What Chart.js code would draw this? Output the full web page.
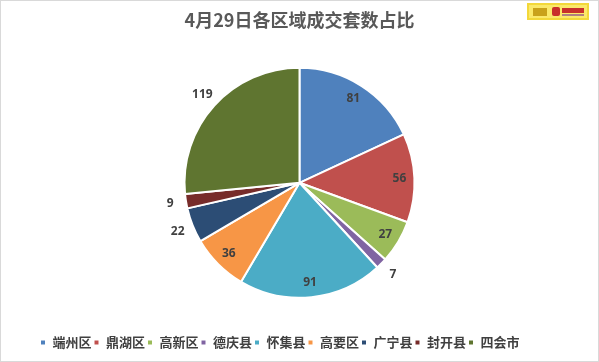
<!DOCTYPE html>
<html>
<head>
<meta charset="utf-8">
<script src="https://cdn.jsdelivr.net/npm/chart.js@4"></script>
<style>
  body { margin: 0; background: #fff; }
  #wrap { position: relative; width: 599px; height: 362px; }
  #frame { position: absolute; left: 0; top: 0; width: 599px; height: 362px; box-sizing: border-box; border: 1px solid #d9d9d9; pointer-events: none; }
  #logo { position: absolute; left: 527px; top: 3px; width: 62px; height: 17px; box-sizing: border-box; background: #fbe96a; border: 2px solid #f3d83a; }
  #logo .a { position: absolute; left: 4px; top: 3px; width: 14px; height: 8px; background: #c9a21a; }
  #logo .b { position: absolute; left: 23px; top: 2px; width: 8px; height: 9px; background: #c8302b; border-radius: 2px; }
  #logo .c { position: absolute; left: 33px; top: 3px; width: 22px; height: 5px; background: #c8302b; }
  #logo .d { position: absolute; left: 33px; top: 9px; width: 22px; height: 2px; background: #b08080; }
</style>
</head>
<body>
<div id="wrap">
  <canvas id="grafico" width="599" height="362"></canvas>
  <div id="logo"><div class="a"></div><div class="b"></div><div class="c"></div><div class="d"></div></div>
  <div id="frame"></div>
</div>
<script>
// datos
const categorias = ['端州区', '鼎湖区', '高新区', '德庆县', '怀集县', '高要区', '广宁县', '封开县', '四会市']
const valores = [81, 56, 27, 7, 91, 36, 22, 9, 119]
const colores = ['#4f81bd', '#c0504d', '#9bbb59', '#8064a2', '#4bacc6', '#f79646', '#2c4d75', '#772c2a', '#5f7530']
// etiquetas fuera del pastel
const etiquetaFuera = [false, false, false, true, false, false, true, true, true]

// etiquetas de valor
const etiquetas = {
  id: 'etiquetas',
  afterDatasetsDraw(chart) {
    const ctx = chart.ctx
    const meta = chart.getDatasetMeta(0)
    ctx.save()
    ctx.font = 'bold 12px "Noto Sans", sans-serif'
    ctx.fillStyle = '#404040'
    ctx.textAlign = 'center'
    ctx.textBaseline = 'middle'
    meta.data.forEach((arc, i) => {
      const p = arc.getProps(['x', 'y', 'startAngle', 'endAngle', 'outerRadius'], true)
      const mid = (p.startAngle + p.endAngle) / 2
      const r = etiquetaFuera[i] ? p.outerRadius * 1.14 : p.outerRadius * 0.87
      ctx.fillText(String(valores[i]), p.x + Math.cos(mid) * r, p.y + Math.sin(mid) * r)
    })
    ctx.restore()
  }
}

const grafico = new Chart(document.getElementById('grafico').getContext('2d'), {
  type: 'pie',
  data: {
    labels: categorias,
    datasets: [{
      data: valores,
      backgroundColor: colores,
      borderColor: '#ffffff',
      borderWidth: 2,
      radius: 115
    }]
  },
  options: {
    responsive: false,
    animation: false,
    layout: { padding: { left: 38, right: 38, top: 0, bottom: 3 } },
    plugins: {
      tooltip: { enabled: false },
      title: {
        display: true,
        text: '4月29日各区域成交套数占比',
        color: '#595959',
        font: { size: 18, weight: 'bold', family: '"Noto Sans CJK SC", sans-serif' },
        padding: { top: 9, bottom: 1 }
      },
      legend: {
        position: 'bottom',
        align: 'start',
        labels: {
          boxWidth: 6,
          boxHeight: 6,
          padding: 2,
          color: '#404040',
          font: { size: 13, weight: 'bold', family: '"Noto Sans CJK SC", sans-serif' }
        }
      }
    }
  },
  plugins: [etiquetas]
})
</script>
</body>
</html>
